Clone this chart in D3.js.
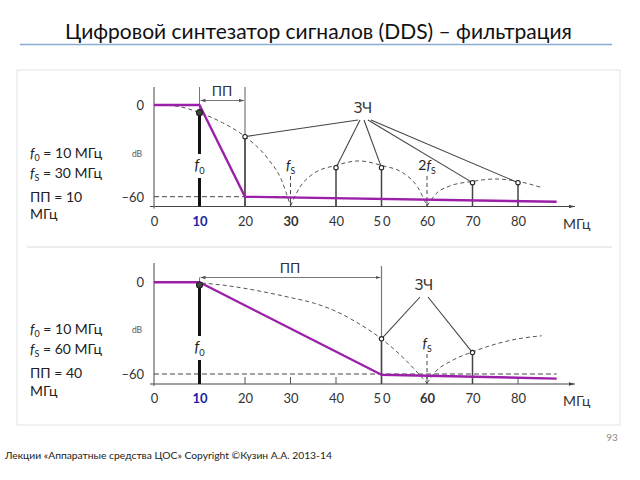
<!DOCTYPE html>
<html><head><meta charset="utf-8">
<script src="https://cdn.jsdelivr.net/npm/d3@7"></script>
<style>body{margin:0;background:#fff}svg{display:block;font-family:Lato,"Open Sans",sans-serif}</style>
</head><body><svg id="c" width="640" height="480"></svg>
<script>
// ---- data ----
const freqTicks = [0,10,20,30,40,50,60,70,80];
const dbTicks = [0,-60];
// top panel (f0=10, fs=30)
const topFilter = [[0,0],[10,0],[20,-60],[88.5,-63.3]];
const topLobe1 = [[3,-0.2],[6,-1.3],[10,-5],[15,-11.5],[20,-20.7],[25,-35],[28,-49],[30,-66]];
const topLobe2 = [[30,-66],[32,-54],[35,-45],[40,-39.5],[45,-36.6],[50,-39.5],[55,-45],[58,-54],[60,-66]];
const topLobe3 = [[60,-66],[62,-58],[65,-53],[70,-50],[75,-48.4],[80,-50],[85.2,-54]];
const topComps = [[10,-5],[20,-20.7],[40,-41],[50,-41],[70,-50.8],[80,-50.8]];
const topImages = [[20,-20.7],[40,-41],[50,-41],[70,-50.8],[80,-50.8]];
// bottom panel (f0=10, fs=60)
const botFilter = [[0,0],[10,0],[50,-60.5],[88.5,-63]];
const botLobe1 = [[10.5,-0.5],[15,-1.8],[20,-4],[25,-6.8],[30,-10],[35,-13.5],[40,-19],[45,-27],[50,-37],[55,-50],[60,-66]];
const botLobe2 = [[60,-66],[62,-58],[65,-52],[70,-45.5],[75,-40.5],[80,-37],[85.2,-35]];
const botComps = [[10,-1.8],[50,-37],[70,-46]];
const botImages = [[50,-37],[70,-46]];

const svg = d3.select('#c');
// title
svg.append('text').attr('x',65).attr('y',39).attr('font-size',21).attr('fill','#111')
  .text('Цифровой синтезатор сигналов (DDS) – фильтрация');
svg.append('line').attr('x1',20).attr('x2',612).attr('y1',44.5).attr('y2',44.5)
  .attr('stroke','#8aaed3').attr('stroke-width',1.6);
// frame
svg.append('rect').attr('x',17).attr('y',70).attr('width',603).attr('height',355)
  .attr('fill','none').attr('stroke','#e3e3e3').attr('stroke-width',1);
svg.append('line').attr('x1',27).attr('x2',612).attr('y1',247).attr('y2',247)
  .attr('stroke','#dcdcdc').attr('stroke-width',1.2);
// footer
svg.append('text').attr('x',5).attr('y',459).attr('font-size',10.3).attr('fill','#222')
  .text('Лекции «Аппаратные средства ЦОС» Copyright ©Кузин А.А. 2013-14');
svg.append('text').attr('x',612).attr('y',441).attr('font-size',10).attr('fill','#888')
  .attr('text-anchor','middle').text('93');

const defs = svg.append('defs');
defs.append('marker').attr('id','ar').attr('viewBox','0 0 10 10').attr('refX',10).attr('refY',5)
  .attr('markerWidth',5).attr('markerHeight',5).attr('orient','auto-start-reverse')
  .append('path').attr('d','M0,1.5L10,5L0,8.5Z').attr('fill','#555');
defs.append('marker').attr('id','ax').attr('viewBox','0 0 10 10').attr('refX',10).attr('refY',5)
  .attr('markerWidth',5).attr('markerHeight',5).attr('orient','auto')
  .append('path').attr('d','M0,2L10,5L0,8Z').attr('fill','#444');

const x = d3.scaleLinear().domain([0,80]).range([154,518]);

function fLabel(g, cx, cy, sub, pre, size){
  const t = g.append('text').attr('x',cx).attr('y',cy).attr('text-anchor','middle')
    .attr('font-size',size||15).attr('fill','#222');
  if(pre) t.append('tspan').text(pre);
  t.append('tspan').attr('font-style','italic').text('f');
  t.append('tspan').attr('font-size',(size||15)*0.62).attr('dy',4).text(sub);
  return t;
}

function panel(cfg){
  const y = d3.scaleLinear().domain([0,-60]).range([cfg.y0, cfg.y60]);
  const g = svg.append('g');
  const axisY = cfg.axisY;
  // axes
  g.append('line').attr('x1',x(-0.9)).attr('x2',x(92.5)).attr('y1',axisY).attr('y2',axisY)
    .attr('stroke','#444').attr('stroke-width',1.2).attr('marker-end','url(#ax)');
  g.append('line').attr('x1',x(0)).attr('x2',x(0)).attr('y1',cfg.yTop).attr('y2',axisY+2)
    .attr('stroke','#666').attr('stroke-width',1.2);
  const ax = d3.axisBottom(x).tickValues(freqTicks).tickSizeInner(0).tickSizeOuter(0).tickPadding(10);
  const axg = g.append('g').attr('transform',`translate(0,${axisY})`).call(ax);
  axg.select('.domain').remove();
  axg.selectAll('text').attr('font-family','Lato,sans-serif').attr('font-size',13).attr('fill','#333')
    .attr('letter-spacing',d=>d===50?'2px':null)
    .attr('dx',d=>d===50?1:0)
    .attr('font-weight',d=>d===10||d===cfg.bold?'bold':'normal')
    .attr('fill',d=>d===10?'#1c23a0':'#333');
  // small upward ticks
  g.selectAll('.tk').data(freqTicks.filter(d=>d>=20)).join('line')
    .attr('x1',d=>x(d)).attr('x2',d=>x(d)).attr('y1',axisY).attr('y2',axisY-7)
    .attr('stroke','#555').attr('stroke-width',1);
  g.append('text').attr('x',563).attr('y',axisY+22).attr('font-size',14).attr('fill','#333').text('МГц');
  // y tick labels
  g.selectAll('.yl').data(dbTicks).join('text').attr('x',x(0)-10).attr('y',d=>y(d)+5)
    .attr('text-anchor','end').attr('font-size',13).attr('fill','#333')
    .text(d=>d===0?'0':'–60');
  g.append('text').attr('x',137).attr('y',cfg.dbY).attr('text-anchor','middle').attr('font-size',8.5)
    .attr('fill','#555').text('dB');
  // -60 dashed
  g.append('line').attr('x1',x(0)).attr('x2',x(cfg.dashEnd)).attr('y1',y(-60)).attr('y2',y(-60))
    .attr('stroke','#444').attr('stroke-width',1).attr('stroke-dasharray','5,3');
  // sinc lobes
  const ln = d3.line().x(d=>x(d[0])).y(d=>y(d[1])).curve(d3.curveMonotoneX);
  cfg.lobes.forEach(l=>g.append('path').attr('d',ln(l)).attr('fill','none')
    .attr('stroke','#555').attr('stroke-width',1).attr('stroke-dasharray','4,3'));
  // ПП bracket
  const [pa,pb] = cfg.pp;
  g.append('line').attr('x1',x(pa)).attr('x2',x(pa)).attr('y1',cfg.ppTop).attr('y2',y(cfg.comps[0][1]))
    .attr('stroke','#777').attr('stroke-width',1);
  g.append('line').attr('x1',x(pb)).attr('x2',x(pb)).attr('y1',cfg.ppTop0).attr('y2',axisY)
    .attr('stroke','#777').attr('stroke-width',1.2);
  g.append('line').attr('x1',x(pa)+1).attr('x2',x(pb)-1).attr('y1',cfg.ppY).attr('y2',cfg.ppY)
    .attr('stroke','#777').attr('stroke-width',1)
    .attr('marker-start','url(#ar)').attr('marker-end','url(#ar)');
  g.append('text').attr('x',cfg.ppLabelX).attr('y',cfg.ppY-5).attr('text-anchor','middle')
    .attr('font-size',14).attr('fill','#333').text('ПП');
  // component lines
  g.selectAll('.cl').data(cfg.comps).join('line')
    .attr('x1',d=>x(d[0])).attr('x2',d=>x(d[0])).attr('y1',axisY).attr('y2',d=>y(d[1]))
    .attr('stroke',d=>d[0]===10?'#111':'#444').attr('stroke-width',d=>d[0]===10?3:1.5);
  // f_S dashed verticals
  cfg.fsMarks.forEach(m=>{
    g.append('line').attr('x1',x(m.f)).attr('x2',x(m.f)).attr('y1',m.top).attr('y2',axisY)
      .attr('stroke','#444').attr('stroke-width',1).attr('stroke-dasharray','4,3');
    fLabel(g, x(m.f), m.ly, 'S', m.pre, 14);
  });
  // filter (purple)
  const fl = d3.line().x(d=>x(d[0])).y(d=>y(d[1]));
  g.append('path').attr('d',fl(cfg.filter)).attr('fill','none').attr('stroke','#9b1fa8')
    .attr('stroke-width',2.4).attr('stroke-linejoin','round');
  // f0 label with white background
  g.append('rect').attr('x',x(10)-7).attr('y',cfg.f0y-16).attr('width',14).attr('height',24).attr('fill','#fff');
  fLabel(g, x(10), cfg.f0y, '0', null, 15);
  // ЗЧ lines
  g.selectAll('.zl').data(cfg.images).join('line')
    .attr('x1',(d,i)=>cfg.zq[0]+cfg.zqOff[i]).attr('y1',cfg.zq[1]+2)
    .attr('x2',d=>x(d[0])).attr('y2',d=>y(d[1]))
    .attr('stroke','#444').attr('stroke-width',1.1);
  g.append('text').attr('x',cfg.zq[0]).attr('y',cfg.zq[1]-5).attr('text-anchor','middle')
    .attr('font-size',15).attr('fill','#333').text('ЗЧ');
  // markers
  g.selectAll('.mk').data(cfg.comps).join('circle')
    .attr('cx',d=>x(d[0])).attr('cy',d=>y(d[1])).attr('r',d=>d[0]===10?3:2.2)
    .attr('fill',d=>d[0]===10?'#444':'#fff').attr('stroke','#222').attr('stroke-width',1.1);
  // left labels
  const lt = (yy, parts)=>{
    const t = g.append('text').attr('x',30).attr('y',yy).attr('font-size',14).attr('fill','#222');
    parts.forEach(p=>{const s=t.append('tspan').text(p.t); if(p.i) s.attr('font-style','italic');
      if(p.sub) s.attr('font-size',9).attr('dy',3); if(p.up) s.attr('dy',-3);});
  };
  lt(cfg.ly[0],[{t:'f',i:1},{t:'0',sub:1},{t:' = 10 МГц',up:1}]);
  lt(cfg.ly[1],[{t:'f',i:1},{t:'S',sub:1},{t:' = '+cfg.fs+' МГц',up:1}]);
  lt(cfg.ly[2],[{t:'ПП = '+cfg.ppw}]);
  lt(cfg.ly[3],[{t:'МГц'}]);
}

panel({y0:105, y60:196.7, axisY:206.5, yTop:87, dbY:157, bold:30, dashEnd:30,
  lobes:[topLobe1,topLobe2,topLobe3], filter:topFilter, comps:topComps, images:topImages,
  pp:[10,20], ppTop:87, ppTop0:87, ppY:100.5, ppLabelX:222,
  fsMarks:[{f:30,top:176,ly:170},{f:60,top:176,ly:170,pre:'2'}],
  f0y:170, zq:[363,118], zqOff:[-5,-3,1,5,8],
  ly:[158,178,202,219], fs:30, ppw:10});
panel({y0:282.3, y60:374, axisY:384, yTop:263, dbY:333, bold:60, dashEnd:88.5,
  lobes:[botLobe1,botLobe2], filter:botFilter, comps:botComps, images:botImages,
  pp:[10,50], ppTop:277.5, ppTop0:266, ppY:277.5, ppLabelX:290,
  fsMarks:[{f:60,top:354,ly:348}],
  f0y:352, zq:[424,295], zqOff:[-4,4],
  ly:[334,354,378,396], fs:60, ppw:40});
</script></body></html>
